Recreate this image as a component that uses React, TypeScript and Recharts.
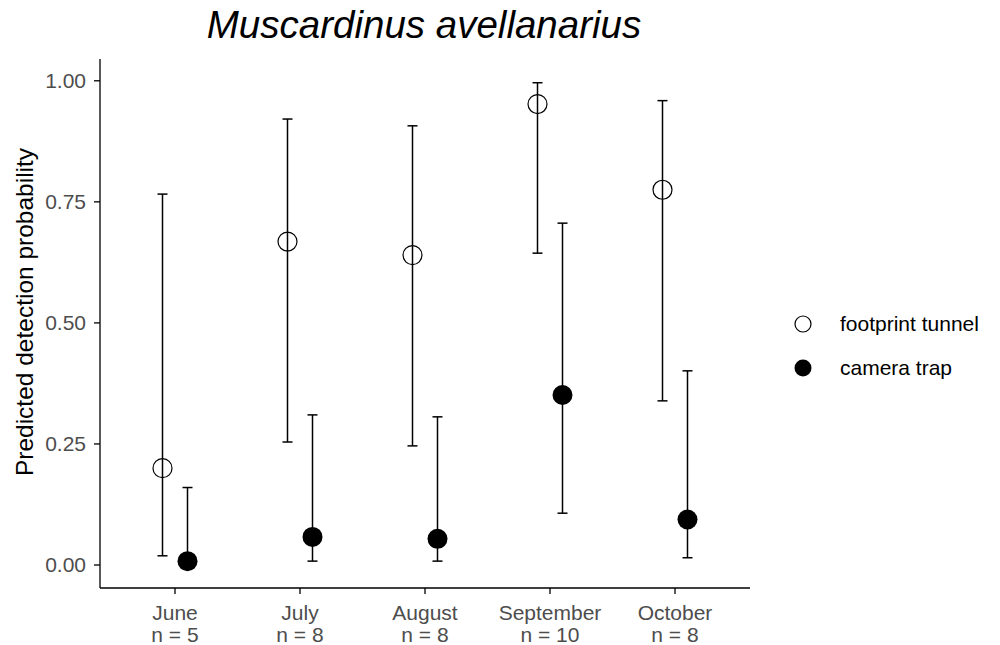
import React from "react";
import {
  ScatterChart,
  Scatter,
  XAxis,
  YAxis,
  ErrorBar,
} from "recharts";

// Months surveyed and number of sites per month
const MONTHS = ["June", "July", "August", "September", "October"];
const SAMPLE_SIZES = [5, 8, 8, 10, 8];

// Footprint tunnel: predicted detection probability with 95% CI
const TUNNEL_MEAN = [0.2, 0.668, 0.64, 0.952, 0.775];
const TUNNEL_LOWER = [0.019, 0.254, 0.246, 0.644, 0.339];
const TUNNEL_UPPER = [0.766, 0.921, 0.907, 0.996, 0.959];

// Camera trap: predicted detection probability with 95% CI
const CAMERA_MEAN = [0.008, 0.058, 0.054, 0.351, 0.094];
const CAMERA_LOWER = [0.001, 0.008, 0.008, 0.107, 0.015];
const CAMERA_UPPER = [0.16, 0.31, 0.306, 0.706, 0.401];

const Y_TICKS = [0, 0.25, 0.5, 0.75, 1];

const DODGE = 0.1;
const FONT = "'Liberation Sans', Arial, sans-serif";

const buildSeries = (mean: number[], lower: number[], upper: number[], shift: number) =>
  mean.map((m, i) => ({
    x: i + shift,
    y: m,
    err: [m - lower[i], upper[i] - m],
  }));

const tunnelData = buildSeries(TUNNEL_MEAN, TUNNEL_LOWER, TUNNEL_UPPER, -DODGE);
const cameraData = buildSeries(CAMERA_MEAN, CAMERA_LOWER, CAMERA_UPPER, DODGE);

const OpenDot = (props: any) => (
  <circle cx={props.cx} cy={props.cy} r={9.5} fill="none" stroke="#000" strokeWidth={1.2} />
);

const FilledDot = (props: any) => (
  <circle cx={props.cx} cy={props.cy} r={10} fill="#000" stroke="none" />
);

const MonthTick = (props: any) => {
  const { x, y, payload } = props;
  const i = Math.round(payload.value);
  return (
    <text x={x} y={y} textAnchor="middle" fill="#4d4d4d" fontSize={21} fontFamily={FONT}>
      <tspan x={x} dy={24}>{MONTHS[i]}</tspan>
      <tspan x={x} dy={22}>{`n = ${SAMPLE_SIZES[i]}`}</tspan>
    </text>
  );
};

export default function App() {
  return (
    <div style={{ position: "absolute", left: 0, top: 0, width: 1000, height: 645, background: "#fff" }}>
      <ScatterChart
        width={1000}
        height={645}
        margin={{ top: 59, right: 250, bottom: 0, left: 40 }}
      >
        <XAxis
          type="number"
          dataKey="x"
          domain={[-0.6, 4.6]}
          ticks={[0, 1, 2, 3, 4]}
          allowDataOverflow
          tick={<MonthTick />}
          tickSize={6}
          tickMargin={2}
          height={57}
          axisLine={{ stroke: "#000", strokeWidth: 1.3 }}
          tickLine={{ stroke: "#000", strokeWidth: 1.3 }}
        />
        <YAxis
          type="number"
          dataKey="y"
          width={60}
          domain={[-0.0475, 1.045]}
          ticks={Y_TICKS}
          allowDataOverflow
          tickFormatter={(v: number) => v.toFixed(2)}
          tick={{ fill: "#4d4d4d", fontSize: 21, fontFamily: FONT }}
          tickSize={6}
          tickMargin={8}
          axisLine={{ stroke: "#000", strokeWidth: 1.3 }}
          tickLine={{ stroke: "#000", strokeWidth: 1.3 }}
        />
        <Scatter
          name="footprint tunnel"
          data={tunnelData}
          shape={OpenDot}
          isAnimationActive={false}
        >
          <ErrorBar dataKey="err" direction="y" width={5} stroke="#000" strokeWidth={1.5} />
        </Scatter>
        <Scatter
          name="camera trap"
          data={cameraData}
          shape={FilledDot}
          isAnimationActive={false}
        >
          <ErrorBar dataKey="err" direction="y" width={5} stroke="#000" strokeWidth={1.5} />
        </Scatter>
      </ScatterChart>

      <svg
        width={1000}
        height={645}
        style={{ position: "absolute", left: 0, top: 0, pointerEvents: "none" }}
      >
        <text
          x={424}
          y={38}
          textAnchor="middle"
          fontSize={38.5}
          fontStyle="italic"
          fontFamily={FONT}
          fill="#000"
        >
          Muscardinus avellanarius
        </text>
        <text
          transform="translate(33, 312) rotate(-90)"
          textAnchor="middle"
          fontSize={24.5}
          fontFamily={FONT}
          fill="#000"
        >
          Predicted detection probability
        </text>
        <circle cx={803} cy={324} r={8} fill="none" stroke="#000" strokeWidth={1.2} />
        <text x={840} y={331} fontSize={21} fontFamily={FONT} fill="#000">
          footprint tunnel
        </text>
        <circle cx={803} cy={368} r={8.5} fill="#000" />
        <text x={840} y={375} fontSize={21} fontFamily={FONT} fill="#000">
          camera trap
        </text>
      </svg>
    </div>
  );
}
